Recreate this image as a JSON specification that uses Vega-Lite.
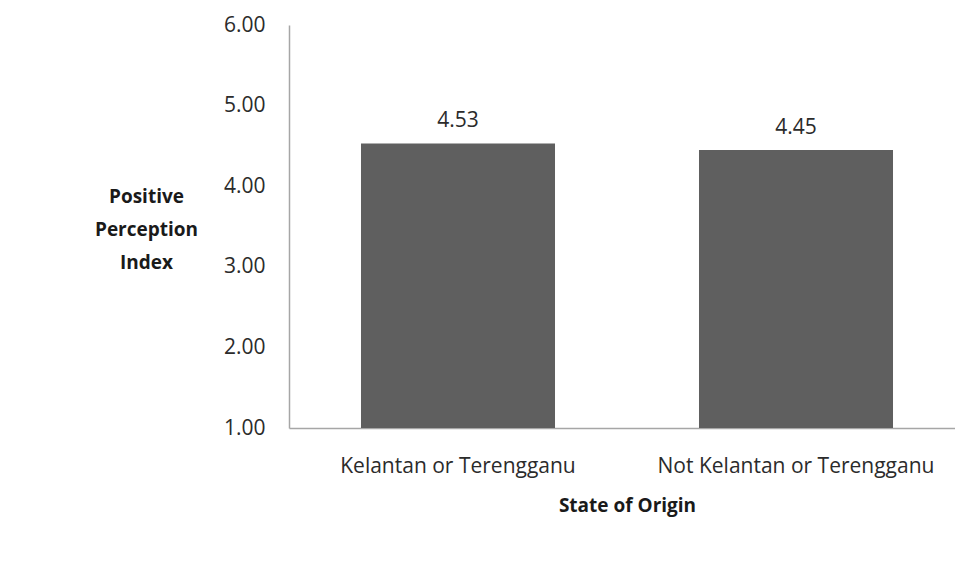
{
  "$schema": "https://vega.github.io/schema/vega-lite/v6.json",
  "autosize": {"type": "none"},
  "padding": {"left": 289, "top": 25, "right": -10, "bottom": 152},
  "width": 676,
  "height": 403,
  "background": "white",
  "config": {
    "view": {"stroke": null},
    "font": "Open Sans"
  },
  "data": {
    "values": [
      {"state": "Kelantan or Terengganu", "index": 4.53},
      {"state": "Not Kelantan or Terengganu", "index": 4.45}
    ]
  },
  "encoding": {
    "x": {
      "field": "state",
      "type": "nominal",
      "sort": null,
      "scale": {"paddingInner": 0.426, "paddingOuter": 0.213},
      "axis": {
        "title": "State of Origin",
        "titleFont": "Open Sans",
        "titleFontSize": 19,
        "titleFontWeight": "bold",
        "titleColor": "#1a1a1a",
        "titlePadding": 20,
        "labelAngle": 0,
        "labelFont": "Open Sans",
        "labelFontSize": 21,
        "labelColor": "#2b2b2b",
        "labelPadding": 27,
        "ticks": false,
        "domainColor": "#a6a6a6",
        "domainWidth": 1.5,
        "labelLimit": 400
      }
    },
    "y": {
      "field": "index",
      "type": "quantitative",
      "scale": {"domain": [1, 6], "zero": false, "nice": false},
      "axis": {
        "values": [1, 2, 3, 4, 5, 6],
        "format": ".2f",
        "grid": false,
        "ticks": false,
        "labelFont": "Open Sans",
        "labelFontSize": 21,
        "labelColor": "#2b2b2b",
        "labelPadding": 24,
        "domainColor": "#a6a6a6",
        "domainWidth": 1.5,
        "title": ["Positive", "Perception", "Index"],
        "titleFont": "Open Sans",
        "titleFontSize": 19,
        "titleFontWeight": "bold",
        "titleColor": "#1a1a1a",
        "titleAngle": 0,
        "titleAlign": "center",
        "titleBaseline": "middle",
        "titleLineHeight": 33,
        "titleX": -143,
        "titleY": 171
      }
    }
  },
  "layer": [
    {"mark": {"type": "bar", "color": "#5f5f5f"}, "encoding": {"y2": {"datum": 1}}},
    {
      "mark": {"type": "text", "baseline": "alphabetic", "dy": -16, "font": "Open Sans", "fontSize": 21, "color": "#2b2b2b"},
      "encoding": {"text": {"field": "index", "type": "quantitative", "format": ".2f"}}
    }
  ]
}
